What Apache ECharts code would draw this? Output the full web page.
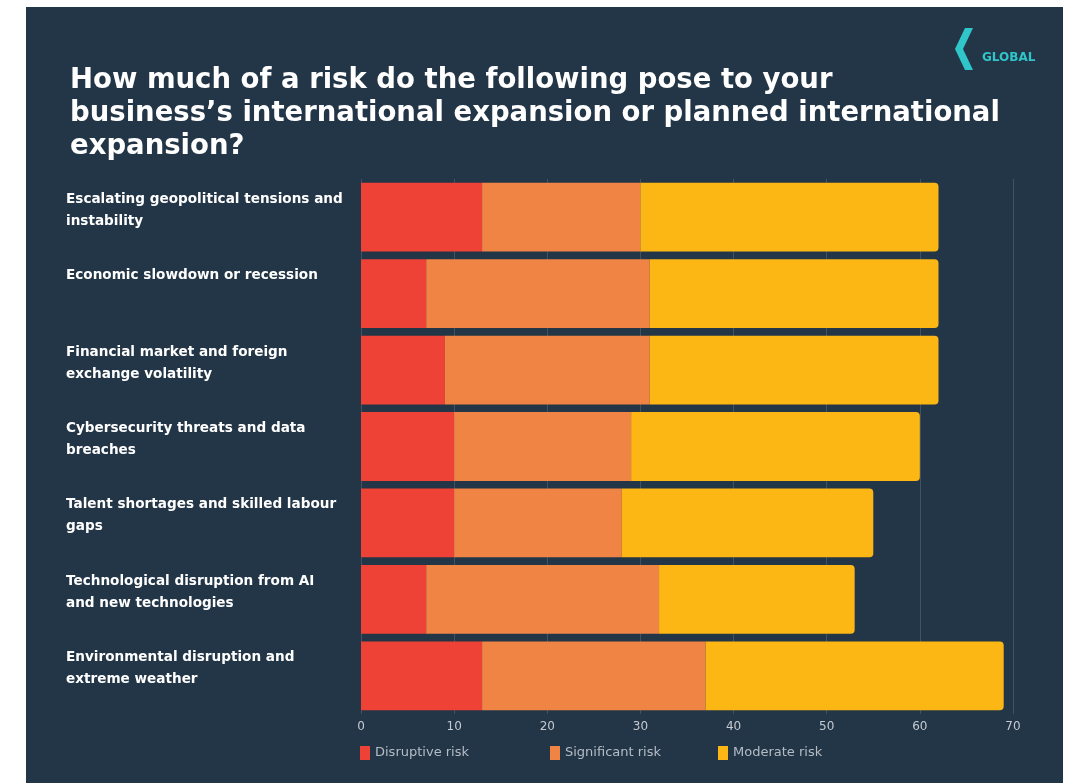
<!DOCTYPE html>
<html>
<head>
<meta charset="utf-8">
<title>International expansion risks</title>
<script src="https://cdn.jsdelivr.net/npm/echarts@6/dist/echarts.min.js"></script>
<style>
  html, body { margin: 0; padding: 0; background: #ffffff; width: 1080px; height: 783px; overflow: hidden; }
  #chart { position: absolute; left: 26px; top: 7px; width: 1037px; height: 776px; }
</style>
</head>
<body>
<div id="chart"></div>
<script>
// Risk categories, top to bottom
const categories = [
  'Escalating geopolitical tensions and\ninstability',
  'Economic slowdown or recession',
  'Financial market and foreign\nexchange volatility',
  'Cybersecurity threats and data\nbreaches',
  'Talent shortages and skilled labour\ngaps',
  'Technological disruption from AI\nand new technologies',
  'Environmental disruption and\nextreme weather'
];

// Share of respondents (%) per risk level
const disruptive  = [13, 7, 9, 10, 10, 7, 13];
const significant = [17, 24, 22, 19, 18, 25, 24];
const moderate    = [32, 31, 31, 31, 27, 21, 32];

const seriesNames = ['Disruptive risk', 'Significant risk', 'Moderate risk'];
const xTicks = [0, 10, 20, 30, 40, 50, 60, 70];

const colors = ['#ee4236', '#f08445', '#fdb714'];

const chart = echarts.init(document.getElementById('chart'), null, { renderer: 'canvas' });

// Category names sit top-aligned against their bar: pad each to two lines plus a spacer
function labelFormatter(value) {
  const lines = value.split('\n');
  if (lines.length < 2) lines.push(' ');
  return lines.map(l => '{t|' + l + '}').join('\n') + '\n{s| }';
}

function legendAt(name, left) {
  return {
    data: [name],
    left: left,
    top: 734,
    itemWidth: 10,
    itemHeight: 14,
    icon: 'rect',
    itemGap: 0,
    textStyle: { color: '#b5bcc4', fontSize: 13, fontFamily: 'DejaVu Sans' }
  };
}

const option = {
  backgroundColor: '#233647',
  animation: false,
  title: {
    text: 'How much of a risk do the following pose to your\nbusiness\u2019s international expansion or planned international\nexpansion?',
    left: 44,
    top: 57,
    padding: 0,
    textStyle: {
      color: '#ffffff',
      fontFamily: 'DejaVu Sans',
      fontWeight: 'bold',
      fontSize: 27.5,
      lineHeight: 33
    }
  },
  legend: [
    legendAt(seriesNames[0], 329),
    legendAt(seriesNames[1], 519),
    legendAt(seriesNames[2], 687)
  ],
  grid: { left: 335, right: 50, top: 172, bottom: 69, containLabel: false },
  xAxis: {
    type: 'value',
    min: xTicks[0],
    max: xTicks[xTicks.length - 1],
    interval: 10,
    axisLine: { show: false },
    axisTick: { show: false },
    splitLine: { show: true, lineStyle: { color: 'rgba(255,255,255,0.14)', width: 1 } },
    axisLabel: { color: '#c4cad0', fontSize: 12, fontFamily: 'DejaVu Sans', margin: 7 }
  },
  yAxis: {
    type: 'category',
    inverse: true,
    data: categories,
    axisLine: { show: false },
    axisTick: { show: false },
    axisLabel: {
      align: 'left',
      margin: 295,
      verticalAlign: 'middle',
      formatter: labelFormatter,
      rich: {
        t: { color: '#ffffff', fontSize: 13.6, fontWeight: 'bold', fontFamily: 'DejaVu Sans', lineHeight: 22 },
        s: { fontSize: 10, lineHeight: 14 }
      }
    }
  },
  series: [
    { name: seriesNames[0], data: disruptive },
    { name: seriesNames[1], data: significant },
    { name: seriesNames[2], data: moderate, itemStyle: { borderRadius: [0, 4, 4, 0] } }
  ].map((s, i) => Object.assign({
    type: 'bar',
    stack: 'risk',
    barCategoryGap: '10%',
    color: colors[i]
  }, s, { itemStyle: Object.assign({ color: colors[i] }, s.itemStyle || {}) })),
  graphic: [
    {
      type: 'polygon',
      left: 929,
      top: 21,
      shape: { points: [[10, 0], [18, 0], [8, 21], [18, 42], [10, 42], [0, 21]] },
      style: { fill: '#2fc5c9' }
    },
    {
      type: 'text',
      left: 956,
      top: 45,
      style: { text: 'GLOBAL', fill: '#2fc5c9', font: 'bold 12px "DejaVu Sans"' }
    }
  ]
};

chart.setOption(option);
</script>
</body>
</html>
